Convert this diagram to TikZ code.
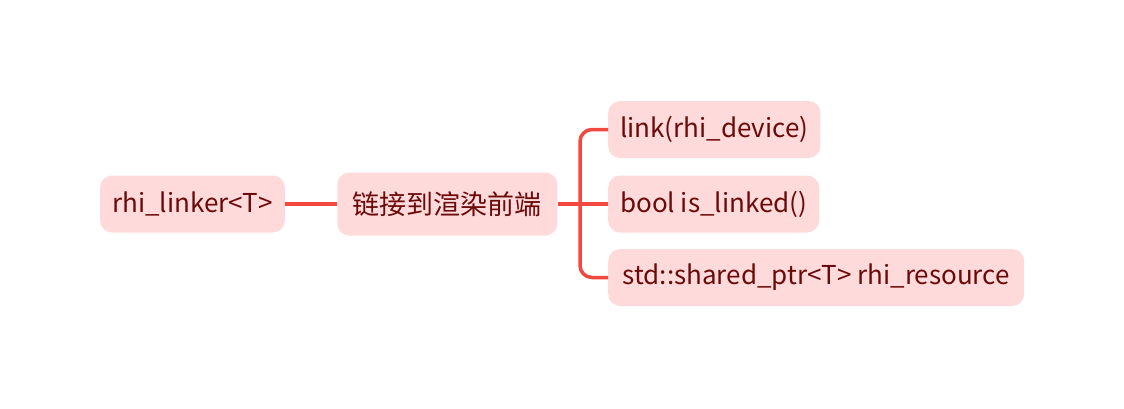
\documentclass[tikz,border=0pt]{standalone}
\usepackage{fontspec}
\setmainfont{Noto Sans CJK SC}
\usepackage{xcolor}
\usetikzlibrary{positioning}
\definecolor{boxfill}{HTML}{FFDADA}
\definecolor{boxtext}{HTML}{6B0A0A}
\definecolor{linkred}{HTML}{F24840}

\begin{document}
\begin{tikzpicture}[
  x=1pt, y=-1pt,
  font=\fontsize{26}{30}\selectfont,
  topic/.style={fill=boxfill, text=boxtext, rounded corners=12pt, inner xsep=12pt,
    minimum height=57pt, anchor=west},
  branch/.style={draw=linkred, line width=3.5pt, rounded corners=12pt}
]
  \useasboundingbox (0,0) rectangle (1124,408);
  \node[topic, minimum width=184pt] (root) at (100,204) {rhi\_linker<T>};
  \node[topic, right=52pt of root, minimum height=63pt, minimum width=220pt,
    font=\fontsize{27}{30}\selectfont] (front) {链接到渲染前端};
  \coordinate (fork) at (580,204);
  \node[topic, minimum width=208pt] (link) at (608,129.5) {link(rhi\_device)};
  \node[topic, minimum width=210pt] (linked) at (608,204) {bool is\_linked()};
  \node[topic, minimum width=416pt] (res) at (608,277.5) {std::shared\_ptr<T> rhi\_resource};

  \draw[branch] (root) -- (front);
  \draw[branch] (front) -- (fork);
  \draw[branch] (fork) |- (link.west);
  \draw[branch] (fork) -- (linked.west);
  \draw[branch] (fork) |- (res.west);
\end{tikzpicture}
\end{document}
